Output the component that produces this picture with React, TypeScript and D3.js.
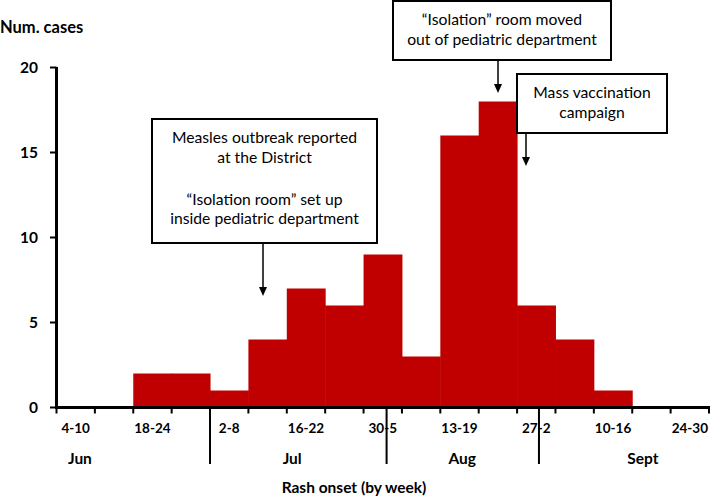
import React from "react";
import * as d3 from "d3";

const weeks = ["4-10","11-17","18-24","25-1","2-8","9-15","16-22","23-29","30-5","6-12","13-19","20-26","27-2","3-9","10-16","17-23","24-30"];
const cases = [0,0,2,2,1,4,7,6,9,3,16,18,6,4,1,0,0];
const yTicks = [0,5,10,15,20];
const months = ["Jun","Jul","Aug","Sept"];
const monthCenters = [0.61, 6.14, 10.57, 15.28];
const monthBoundaries = [4, 8.6, 12.57];

const W = 710, H = 498;
const FONT = "Lato, 'Open Sans', sans-serif";

export default function App() {
  const x = d3.scaleLinear().domain([0, weeks.length]).range([56.5, 709]);
  const y = d3.scaleLinear().domain([0, 20]).range([407.5, 67.5]);
  const red = "#C00000";

  const annotations = [
    { box: [152, 119, 377, 243], lines: [["Measles outbreak reported", 143], ["at the District", 163], ["\u201CIsolation room\u201D set up", 205], ["inside pediatric department", 224]], arrow: [263, 243, 296] },
    { box: [393, 1, 611, 60], lines: [["\u201CIsolation\u201D room moved", 25], ["out of pediatric department", 45]], arrow: [498, 60, 93] },
    { box: [517, 74, 667, 133], lines: [["Mass vaccination", 98], ["campaign", 118]], arrow: [526, 133, 166] },
  ];

  return (
    <svg width={W} height={H} style={{ position: "absolute", left: 0, top: 0, background: "#fff" }} fontFamily={FONT}>
      {cases.map((c, i) => c > 0 ? (
        <rect key={i} x={x(i)} y={y(c)} width={x(i + 1) - x(i) + 0.5} height={y(0) - y(c)} fill={red} />
      ) : null)}
      {/* y axis */}
      <line x1={56.5} x2={56.5} y1={y(20) - 0.5} y2={y(0) + 1.5} stroke="#000" strokeWidth={3} />
      {yTicks.map(t => (
        <g key={t}>
          <line x1={50} x2={56.5} y1={y(t)} y2={y(t)} stroke="#000" strokeWidth={2} />
          <text x={38} y={y(t) + 5.5} textAnchor="end" fontWeight="bold" fontSize={15.5}>{t}</text>
        </g>
      ))}
      <text x={0} y={33} fontWeight="bold" fontSize={16.5}>Num. cases</text>
      {/* x axis */}
      <line x1={55} x2={710} y1={y(0)} y2={y(0)} stroke="#000" strokeWidth={3} />
      {d3.range(weeks.length + 1).map(i => (
        <line key={i} x1={x(i)} x2={x(i)} y1={y(0)} y2={y(0) + 6} stroke="#000" strokeWidth={2} />
      ))}
      {weeks.map((w, i) => i % 2 === 0 ? (
        <text key={w} x={(x(i) + x(i + 1)) / 2} y={433} textAnchor="middle" fontWeight="bold" fontSize={13.5}>{w}</text>
      ) : null)}
      {monthBoundaries.map((b, i) => (
        <line key={i} x1={x(b)} x2={x(b)} y1={y(0)} y2={464} stroke="#000" strokeWidth={2} />
      ))}
      {months.map((m, i) => (
        <text key={m} x={x(monthCenters[i])} y={464} textAnchor="middle" fontWeight="bold" fontSize={15.5}>{m}</text>
      ))}
      <text x={354} y={493} textAnchor="middle" fontWeight="bold" fontSize={15.5}>Rash onset (by week)</text>
      {/* annotations */}
      {annotations.map((a, k) => {
        const [x0, y0, x1, y1] = a.box;
        const [ax, ay0, ay1] = a.arrow;
        const cx = (x0 + x1) / 2;
        return (
          <g key={k}>
            <rect x={x0} y={y0} width={x1 - x0} height={y1 - y0} fill="#fff" stroke="#000" strokeWidth={2} />
            {a.lines.map(([t, ty]) => (
              <text key={t as string} x={cx} y={ty as number} textAnchor="middle" fontSize={15.7}>{t}</text>
            ))}
            <line x1={ax} x2={ax} y1={ay0} y2={ay1 - 8} stroke="#000" strokeWidth={1.5} />
            <path d={`M${ax - 4},${ay1 - 9} L${ax + 4},${ay1 - 9} L${ax},${ay1} Z`} fill="#000" />
          </g>
        );
      })}
    </svg>
  );
}
